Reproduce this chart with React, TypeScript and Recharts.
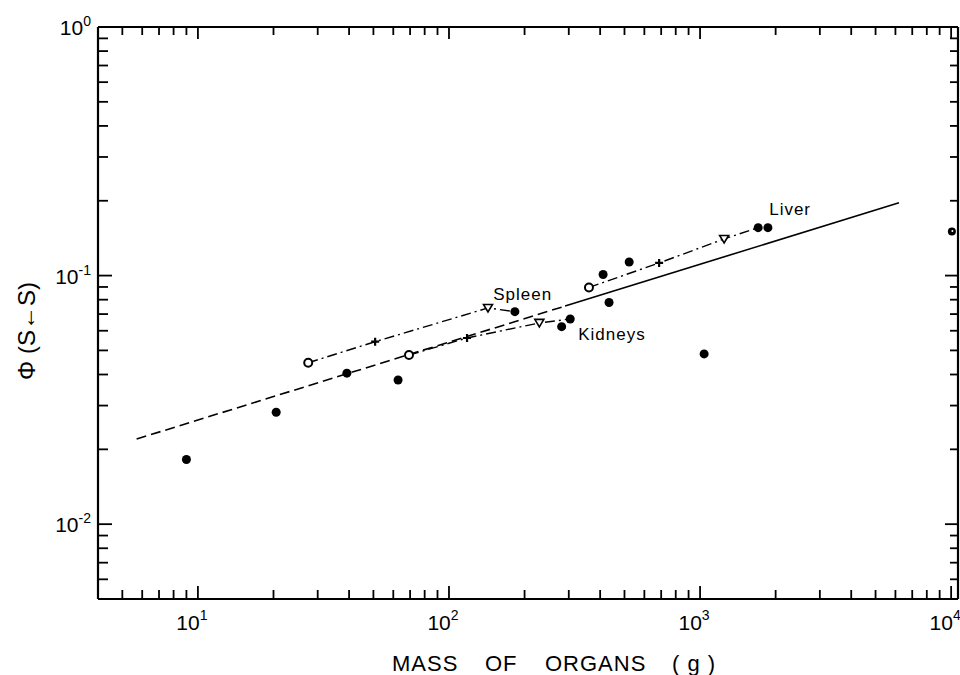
import { ScatterChart, Scatter, XAxis, YAxis, ReferenceLine } from "recharts";

// organ mass (g) against absorbed fraction Φ(S←S), log–log
const massTicks = [
  5, 6, 7, 8, 9, 10, 20, 30, 40, 50, 60, 70, 80, 90, 100, 200, 300, 400, 500, 600,
  700, 800, 900, 1000, 2000, 3000, 4000, 5000, 6000, 7000, 8000, 9000, 10000,
];
const phiTicks = [
  0.006, 0.007, 0.008, 0.009, 0.01, 0.02, 0.03, 0.04, 0.05, 0.06, 0.07, 0.08, 0.09,
  0.1, 0.2, 0.3, 0.4, 0.5, 0.6, 0.7, 0.8, 0.9, 1,
];
const massDomain = [4, 10650];
const phiDomain = [0.005, 1];

// marker used for each stage along an organ curve
const stageMarkers = ["open", "plus", "triangle", "dot"];

const spleenMass = [27.5, 50.8, 143, 183];
const spleenPhi = [0.0446, 0.0542, 0.0741, 0.0716];
const kidneyMass = [69.3, 118, 229, 304];
const kidneyPhi = [0.0479, 0.0561, 0.0645, 0.0669];
const liverMass = [361, 687, 1247, 1704];
const liverPhi = [0.0896, 0.1124, 0.1404, 0.1559];

// other organs
const otherMass = [9.0, 20.5, 39.2, 62.7, 281, 411, 434, 522, 1038, 1863];
const otherPhi = [0.0182, 0.0282, 0.0405, 0.038, 0.0623, 0.101, 0.0779, 0.1134, 0.0484, 0.1559];
const edgeMass = [10070];
const edgePhi = [0.1505];

// fitted line: dashed below, solid above
const fitDashedMass = [5.7, 290];
const fitDashedPhi = [0.022, 0.0754];
const fitSolidMass = [290, 6200];
const fitSolidPhi = [0.0754, 0.1965];

const organNames = ["Spleen", "Kidneys", "Liver"];
const organLabelMass = [150, 327, 1885];
const organLabelPhi = [0.0797, 0.0551, 0.1753];

const FONT = "'Liberation Sans', Arial, Helvetica, sans-serif";
const W = 960;
const H = 675;

const pts = (xs: number[], ys: number[]) => xs.map((x, i) => ({ x, y: ys[i] }));
const stagePts = (xs: number[], ys: number[]) =>
  xs.map((x, i) => ({ x, y: ys[i], marker: stageMarkers[i] }));

const isDecade = (v: number) => Math.abs(Math.log10(v) - Math.round(Math.log10(v))) < 1e-9;
const exponent = (v: number) => String(Math.round(Math.log10(v)));

// inward tick marks on all four edges of the frame, plus decade labels
const bottomTicks = massTicks.map((v) => ({ x: v, y: phiDomain[0], major: isDecade(v) }));
const topTicks = massTicks.map((v) => ({ x: v, y: phiDomain[1], major: isDecade(v) }));
const leftTicks = phiTicks.map((v) => ({ x: massDomain[0], y: v, major: isDecade(v) }));
const rightTicks = phiTicks.map((v) => ({ x: massDomain[1], y: v, major: isDecade(v) }));
const massDecades = massTicks.filter(isDecade).map((v) => ({ x: v, y: phiDomain[0] }));
const phiDecades = phiTicks.filter(isDecade).map((v) => ({ x: massDomain[0], y: v }));

const tickStroke = { stroke: "#000", strokeWidth: 1.8, fill: "none" };
const BottomMark = ({ cx, cy, payload }: any) => (
  <path d={`M${cx},${cy}V${cy - (payload.major ? 13 : 9)}`} {...tickStroke} />
);
const TopMark = ({ cx, cy, payload }: any) => (
  <path d={`M${cx},${cy}V${cy + (payload.major ? 12 : 8)}`} {...tickStroke} />
);
const LeftMark = ({ cx, cy, payload }: any) => (
  <path d={`M${cx},${cy}H${cx + (payload.major ? 14 : 10)}`} {...tickStroke} />
);
const RightMark = ({ cx, cy, payload }: any) => (
  <path d={`M${cx},${cy}H${cx - (payload.major ? 13 : 8)}`} {...tickStroke} />
);

const MassLabel = ({ cx, cy, payload }: any) => (
  <text x={cx - 6} y={cy + 31} textAnchor="middle" fontSize={21} fontFamily={FONT} fill="#000">
    10<tspan dy={-10} fontSize={14}>{exponent(payload.x)}</tspan>
  </text>
);
const PhiLabel = ({ cx, cy, payload }: any) => (
  <text x={cx - 7} y={cy + 8} textAnchor="end" fontSize={21} fontFamily={FONT} fill="#000">
    10<tspan dy={-9} fontSize={14}>{exponent(payload.y)}</tspan>
  </text>
);

function StageMarker({ cx, cy, payload }: any) {
  switch (payload.marker) {
    case "open":
      return <circle cx={cx} cy={cy} r={4} fill="#fff" stroke="#000" strokeWidth={2} />;
    case "plus":
      return (
        <path d={`M${cx - 4},${cy}H${cx + 4}M${cx},${cy - 4}V${cy + 4}`} stroke="#000" strokeWidth={2.2} />
      );
    case "triangle":
      return (
        <path
          d={`M${cx - 4.5},${cy - 3.5}L${cx + 4.5},${cy - 3.5}L${cx},${cy + 4}Z`}
          fill="#fff"
          stroke="#000"
          strokeWidth={1.6}
        />
      );
    default:
      return <circle cx={cx} cy={cy} r={4.5} fill="#000" />;
  }
}

const Dot = ({ cx, cy }: any) => <circle cx={cx} cy={cy} r={4.5} fill="#000" />;
const EdgeDot = ({ cx, cy }: any) => (
  <g>
    <circle cx={cx} cy={cy} r={4} fill="#000" />
    <circle cx={cx + 0.5} cy={cy - 0.5} r={1} fill="#fff" />
  </g>
);
const NoMark = () => <g />;

const OrganName = ({ cx, cy, payload }: any) => (
  <text x={cx} y={cy} fontSize={17} letterSpacing={1} fontFamily={FONT} fill="#000">
    {payload.name}
  </text>
);

const frame = { stroke: "#000", strokeWidth: 2.2 };
const dashDot = { stroke: "#000", strokeWidth: 1.4, strokeDasharray: "10 4 2 4" };

export default function App() {
  const labels = organNames.map((name, i) => ({ x: organLabelMass[i], y: organLabelPhi[i], name }));
  return (
    <div style={{ position: "absolute", left: 0, top: 0, width: W, height: H, background: "#fff" }}>
      <ScatterChart width={W} height={H} margin={{ top: 27, right: 2, bottom: 75, left: 97 }}>
        <XAxis
          dataKey="x"
          type="number"
          scale="log"
          domain={massDomain}
          tick={false}
          tickLine={false}
          axisLine={frame}
          height={1}
          label={{
            content: ({ viewBox }: any) => (
              <text y={viewBox.y + 72} fontSize={22} letterSpacing={1} fontFamily={FONT} fill="#000">
                <tspan x={viewBox.x + 294}>MASS</tspan>
                <tspan x={viewBox.x + 387}>OF</tspan>
                <tspan x={viewBox.x + 447}>ORGANS</tspan>
                <tspan x={viewBox.x + 574}>( g )</tspan>
              </text>
            ),
          }}
        />
        <YAxis
          dataKey="y"
          type="number"
          scale="log"
          domain={phiDomain}
          tick={false}
          tickLine={false}
          axisLine={frame}
          width={1}
          label={{
            content: ({ viewBox }: any) => {
              const cy = viewBox.y + viewBox.height / 2 + 18;
              return (
                <text
                  x={26}
                  y={cy}
                  transform={`rotate(-90, 26, ${cy})`}
                  textAnchor="middle"
                  dominantBaseline="central"
                  fontSize={24}
                  fontFamily={FONT}
                  fill="#000"
                >
                  Φ (S←S)
                </text>
              );
            },
          }}
        />

        {/* top and right edges of the frame */}
        <ReferenceLine y={phiDomain[1]} {...frame} />
        <ReferenceLine x={massDomain[1]} {...frame} />

        <Scatter data={bottomTicks} shape={BottomMark} isAnimationActive={false} />
        <Scatter data={topTicks} shape={TopMark} isAnimationActive={false} />
        <Scatter data={leftTicks} shape={LeftMark} isAnimationActive={false} />
        <Scatter data={rightTicks} shape={RightMark} isAnimationActive={false} />
        <Scatter data={massDecades} shape={MassLabel} isAnimationActive={false} />
        <Scatter data={phiDecades} shape={PhiLabel} isAnimationActive={false} />

        <Scatter
          data={pts(fitDashedMass, fitDashedPhi)}
          line={{ stroke: "#000", strokeWidth: 1.6, strokeDasharray: "10 5" }}
          lineType="joint"
          shape={NoMark}
          isAnimationActive={false}
        />
        <Scatter
          data={pts(fitSolidMass, fitSolidPhi)}
          line={{ stroke: "#000", strokeWidth: 1.6 }}
          lineType="joint"
          shape={NoMark}
          isAnimationActive={false}
        />

        <Scatter data={stagePts(spleenMass, spleenPhi)} line={dashDot} lineType="joint" shape={StageMarker} isAnimationActive={false} />
        <Scatter data={stagePts(kidneyMass, kidneyPhi)} line={dashDot} lineType="joint" shape={StageMarker} isAnimationActive={false} />
        <Scatter data={stagePts(liverMass, liverPhi)} line={dashDot} lineType="joint" shape={StageMarker} isAnimationActive={false} />

        <Scatter data={pts(otherMass, otherPhi)} shape={Dot} isAnimationActive={false} />
        <Scatter data={pts(edgeMass, edgePhi)} shape={EdgeDot} isAnimationActive={false} />
        <Scatter data={labels} shape={OrganName} isAnimationActive={false} />
      </ScatterChart>
    </div>
  );
}
